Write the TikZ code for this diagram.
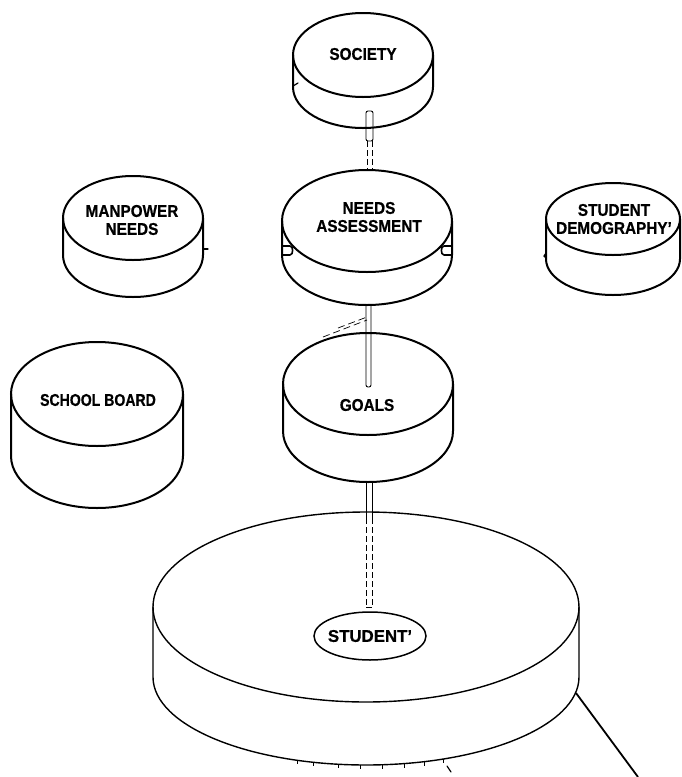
\documentclass[tikz,border=0pt]{standalone}
\usepackage{fontspec}
\newfontfamily\labfont[FakeStretch=0.9, BoldFeatures={FakeBold=0.6}]{Liberation Sans}
\usetikzlibrary{shapes.geometric,calc}

% side walls and lower rim of a drum whose top face is node #2
% #3 = x radius, #4 = wall height, #5 = y radius of the lower rim
\newcommand\drumbody[5][]{%
  \draw[rim,#1] (#2.west) -- ++(0,#4) arc[start angle=180, end angle=0, x radius=#3, y radius=#5] -- (#2.east);
}

\begin{document}
\begin{tikzpicture}[x=1pt,y=-1pt,
  face/.style={ellipse, draw, line width=2pt, inner sep=0pt, outer sep=0pt},
  lab/.style={inner sep=0pt, align=center,
    font=\labfont\bfseries\fontsize{17}{18}\selectfont},
  rim/.style={line width=2pt, line cap=round, line join=round},
  thinrim/.style={line width=1.4pt, line cap=round, line join=round},
  pipe/.style={line width=0.9pt, rounded corners=2pt},
  pipedash/.style={line width=0.9pt, dash pattern=on 6pt off 3pt},
  speck/.style={line width=1.2pt, line cap=round},
]
\fill[white] (0,0) rectangle (681,777);
\useasboundingbox (0,0) rectangle (681,777);

% ---- drums -------------------------------------------------------------
\node[face, minimum width=140pt, minimum height=84pt] (soc) at (363,55) {};
\drumbody{soc}{70}{32}{41}
\node[lab] (soc-t) at ($(soc.center)+(0,-1)$) {SOCIETY};

\node[face, minimum width=140pt, minimum height=84pt] (man) at (133,218) {};
\drumbody{man}{70}{37}{42}
\node[lab] (man-t) at ($(man.center)+(-1,2)$) {MANPOWER\\NEEDS};

\node[face, minimum width=170pt, minimum height=102pt] (need) at (367,221) {};
\drumbody{need}{85}{34}{50}
\node[lab] (need-t) at ($(need.center)+(2,-4)$) {NEEDS\\ASSESSMENT};

\node[face, minimum width=134pt, minimum height=72pt] (demo) at (613,219) {};
\drumbody{demo}{67}{40}{36}
\node[lab] (demo-t) at ($(demo.center)+(1,0)$) {STUDENT\\DEMOGRAPHY\textquoteright};

\node[face, minimum width=172pt, minimum height=104pt] (board) at (97,394) {};
\drumbody{board}{86}{62}{52}
\node[lab] (board-t) at ($(board.center)+(1,6)$) {\scalebox{0.92}[1]{SCHOOL BOARD}};

\node[face, minimum width=170pt, minimum height=102pt] (goals) at (368,384) {};
\drumbody{goals}{85}{47}{51}
\node[lab] (goals-t) at ($(goals.center)+(-1,21)$) {GOALS};

\node[face, line width=1.4pt, minimum width=426pt, minimum height=190pt] (stu) at (366,607) {};
\drumbody[thinrim]{stu}{213}{70}{88}
\node[face, line width=1.5pt, minimum width=112pt, minimum height=48pt] (me) at (370,636) {};
\node[lab] (me-t) at (me.center) {\scalebox{1.1}[1]{STUDENT\textquoteright}};

% ---- small tabs on the needs drum ---------------------------------------
\draw[rim, line width=1.6pt] ($(need.west)+(0,25)$) -- ++(8,0) to[out=0,in=0] ++(0,9) -- ++(-8,0);
\draw[rim, line width=1.6pt] ($(need.east)+(0,25)$) -- ++(-8,0) to[out=180,in=180] ++(0,9) -- ++(8,0);

% ---- connectors -----------------------------------------------------------
% society -> needs assessment
\coordinate (s1) at ($(soc.south)+(3,14)$);
\coordinate (s2) at ($(soc.south)+(10,44)$);
\draw[pipe] (s1) rectangle (s2);
\coordinate (s3) at ($(soc.south)+(4,44)$);
\coordinate (s4) at ($(soc.south)+(9,44)$);
\draw[pipedash] (s3) -- (s3 |- need.north);
\draw[pipedash] (s4) -- (s4 |- need.north);

% needs assessment -> goals
\coordinate (n1) at ($(need.south)+(0,34)$);
\coordinate (n2) at ($(goals.center)+(0,3)$);
\draw[pipe] ([xshift=-1pt]n1) -- ([xshift=-1pt]n1 |- n2) -- ([xshift=4pt]n1 |- n2) -- ([xshift=4pt]n1);
\draw[line width=0.7pt, dash pattern=on 7pt off 4pt] (323,337) -- (367,320);
\draw[line width=0.7pt, dash pattern=on 7pt off 4pt] (338,328) -- (367,317);

% goals -> student
\coordinate (g1) at ($(goals.south)+(0,47)$);
\coordinate (g2) at ($(stu.north)+(0,6)$);
\coordinate (g3) at ($(me.north)+(0,-5)$);
\draw[line width=0.9pt] ([xshift=-2pt]g1) -- ([xshift=-2pt]g1 |- g2);
\draw[line width=0.9pt] ([xshift=4pt]g1) -- ([xshift=4pt]g1 |- g2);
\draw[pipedash] ([xshift=-2pt]g1 |- g2) -- ([xshift=-2pt]g1 |- g3);
\draw[pipedash] ([xshift=4pt]g1 |- g2) -- ([xshift=4pt]g1 |- g3);
\draw[line width=0.9pt] ([xshift=-2pt]g1 |- g3) -- ([xshift=4pt]g1 |- g3);

% ---- line leaving the student drum ----------------------------------------
\coordinate (tail) at (638,777);
\draw[line width=1.8pt] ($(stu.east)+(-3,86)$) -- (tail);

% ---- small marks along the lower rim of the student drum -------------------
\foreach \tx in {297,313,338,360,382,404,424,443}
  \draw[line width=1pt] ({\tx},{677+88*sqrt(1-((\tx-366)/213)^2)}) -- ++(0,4);
\draw[speck] (447,766) -- (451,772);

% ---- specks on the drums ---------------------------------------------------
\draw[speck] ($(soc.west)+(0,31)$) -- ++(5,-3);
\draw[speck] ($(man.east)+(0,31)$) -- ++(5,0);
\draw[speck] ($(demo.west)+(0,34)$) -- ++(-2,3) -- ++(2,2);
\end{tikzpicture}
\end{document}
